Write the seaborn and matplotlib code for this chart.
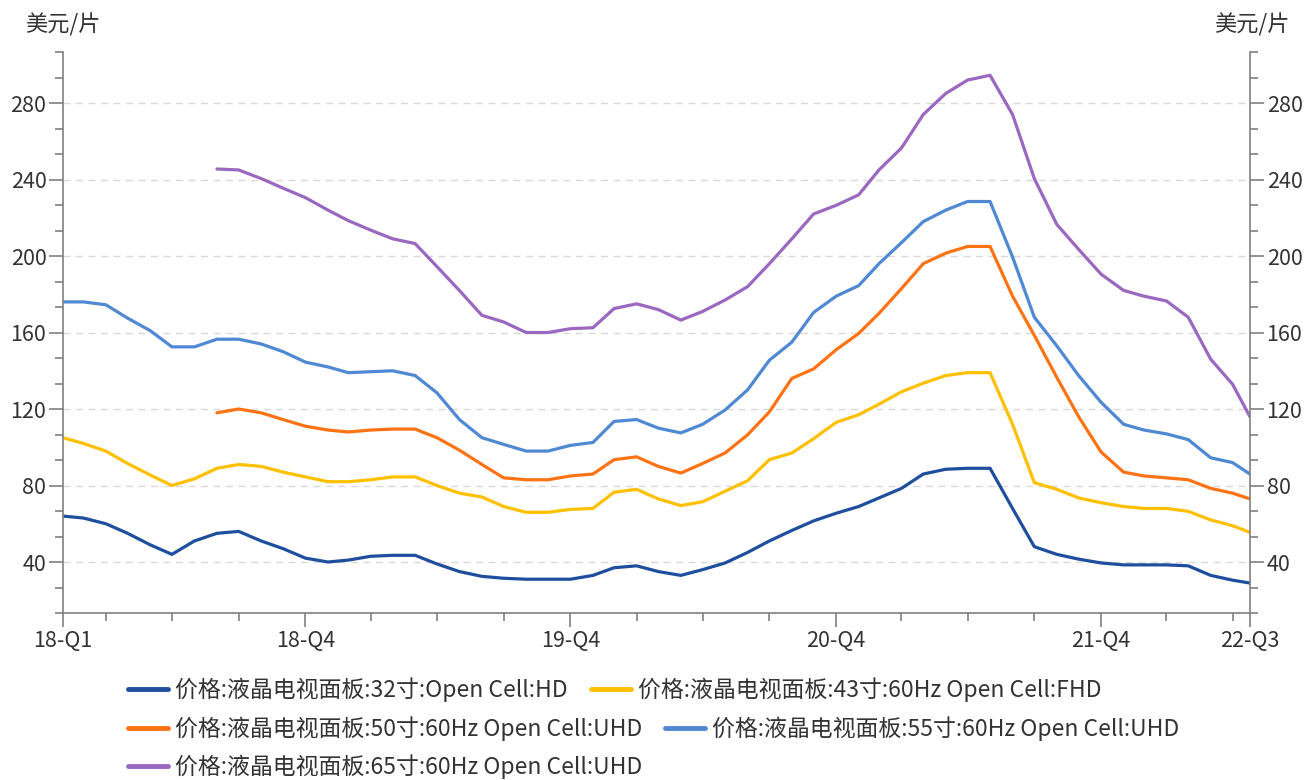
import pandas as pd
import numpy as np
import matplotlib.pyplot as plt
import matplotlib.dates as mdates
from matplotlib.lines import Line2D
from matplotlib.ticker import FixedLocator, FixedFormatter, NullFormatter
import seaborn as sns

sns.set_style('ticks')
plt.rcParams['font.family'] = ['Noto Sans CJK SC', 'DejaVu Sans']
plt.rcParams['axes.unicode_minus'] = False

# 月度数据：2018-02 ~ 2022-07，最后一个点为 7 月下旬
dates = list(pd.date_range('2018-02-01', '2022-07-01', freq='MS')) + [pd.Timestamp('2022-07-25')]

names = ['价格:液晶电视面板:32寸:Open Cell:HD',
         '价格:液晶电视面板:43寸:60Hz Open Cell:FHD',
         '价格:液晶电视面板:50寸:60Hz Open Cell:UHD',
         '价格:液晶电视面板:55寸:60Hz Open Cell:UHD',
         '价格:液晶电视面板:65寸:60Hz Open Cell:UHD']
colors = ['#1f4e9e', '#ffc000', '#ff7314', '#4f88d3', '#9a68c0']

p32 = [64, 63, 60, 55, 49, 44, 51, 55, 56, 51,
       47, 42, 40, 41, 43, 43.5, 43.5, 39, 35, 32.5,
       31.5, 31, 31, 31, 33, 37, 38, 35, 33, 36,
       39.5, 45, 51, 56.5, 61.5, 65.5, 69, 73.5, 78.5, 86,
       88.5, 89, 89, 68, 48, 44, 41.5, 39.5, 38.5, 38.5,
       38.5, 38, 33, 30.5, 29]
p43 = [105, 102, 98, 91.5, 85.5, 80, 83.5, 89, 91, 90,
       87, 84.5, 82, 82, 83, 84.5, 84.5, 80, 76, 74,
       69, 66, 66, 67.5, 68, 76.5, 78, 73, 69.5, 71.5,
       77, 82.5, 93.5, 97, 104.5, 113, 117, 122.5, 129, 133.5,
       137.5, 139, 139, 112, 81.5, 78, 73.5, 71, 69, 68,
       68, 66.5, 62, 59, 55.5]
p50 = [np.nan] * 7 + [118, 120, 118,
       114.5, 111, 109, 108, 109, 109.5, 109.5, 105, 98.5, 91,
       84, 83, 83, 85, 86, 93.5, 95, 90, 86.5, 91.5,
       97, 106.5, 118.5, 136, 141, 151, 159.5, 170, 183, 196,
       201.5, 205, 205, 179, 158.5, 136.5, 116, 97.5, 87, 85,
       84, 83, 78.5, 76, 73]
p55 = [176, 176, 174.5, 167.5, 161, 152.5, 152.5, 156.5, 156.5, 154,
       150, 144.5, 142, 139, 139.5, 140, 137.5, 128.5, 114.5, 105,
       101.5, 98, 98, 101, 102.5, 113.5, 114.5, 110, 107.5, 112,
       119.5, 130, 145.5, 155, 170.5, 179, 184.5, 196, 207, 218,
       224, 228.5, 228.5, 199.5, 168, 153, 137.5, 123.5, 112, 109,
       107, 104, 94.5, 92, 86]
p65 = [np.nan] * 7 + [245.5, 245, 240.5,
       235.5, 230.5, 224, 218.5, 213.5, 209, 206.5, 194.5, 182, 169,
       165.5, 160, 160, 162, 162.5, 172.5, 175, 172, 166.5, 171,
       177, 184, 196, 209, 222, 226.5, 232, 245, 256.5, 274,
       285, 292, 294.5, 274, 240.5, 216.5, 203.5, 190.5, 182, 179,
       176.5, 168, 146, 133, 116]

df = pd.DataFrame({'date': dates, names[0]: p32, names[1]: p43, names[2]: p50,
                   names[3]: p55, names[4]: p65})
df = df.melt(id_vars='date', var_name='name', value_name='price').dropna()

fig, ax = plt.subplots(figsize=(13.16, 7.8), dpi=100)
fig.subplots_adjust(left=0.0479, right=0.9498, bottom=0.2141, top=0.9333)

sns.lineplot(data=df, x='date', y='price', hue='name', hue_order=names,
             palette=colors, linewidth=2.3, ax=ax, legend=False)

# 坐标轴
ax.set_xlim(dates[0], dates[-1])
ax.set_ylim(40 / 3, 920 / 3)
ax.set_xlabel('')
ax.set_ylabel('')

major_x = [dates[0], pd.Timestamp('2019-01-01'), pd.Timestamp('2020-01-01'),
           pd.Timestamp('2021-01-01'), pd.Timestamp('2022-01-01'), dates[-1]]
major_x_labels = ['18-Q1', '18-Q4', '19-Q4', '20-Q4', '21-Q4', '22-Q3']
minor_x = [d for d in pd.date_range('2018-04-01', '2022-07-01', freq='QS') if d.month != 1]
ax.xaxis.set_major_locator(FixedLocator(mdates.date2num(major_x)))
ax.xaxis.set_major_formatter(FixedFormatter(major_x_labels))
ax.xaxis.set_minor_locator(FixedLocator(mdates.date2num(minor_x)))
ax.xaxis.set_minor_formatter(NullFormatter())

ax.yaxis.set_major_locator(FixedLocator(np.arange(40, 281, 40)))
ax.yaxis.set_minor_locator(FixedLocator(np.arange(1, 24) * 40 / 3))

ax.tick_params(axis='both', which='major', direction='out', length=10, width=1.2,
               color='#808080', labelsize=15.5, labelcolor='#333333', pad=2)
ax.tick_params(axis='both', which='minor', direction='out', length=6, width=1.2,
               color='#808080')
ax.tick_params(axis='y', which='both', left=True, right=True, labelleft=True, labelright=True)

ax.spines['top'].set_visible(False)
for s in ['left', 'right', 'bottom']:
    ax.spines[s].set_color('#808080')
    ax.spines[s].set_linewidth(1.2)

ax.grid(axis='y', which='major', linestyle=(0, (5, 4)), color='#d9d9d9', linewidth=1)
ax.set_axisbelow(True)

fig.text(25 / 1316, 1 - 25 / 780, '美元/片', ha='left', va='center', fontsize=16, color='#333333')
fig.text(1290 / 1316, 1 - 25 / 780, '美元/片', ha='right', va='center', fontsize=16, color='#333333')

# 图例（三行）
rows = [[0, 1], [2, 3], [4]]
row_y = [690, 729, 767]
for r, y in zip(rows, row_y):
    handles = [Line2D([], [], color=colors[i], lw=3.5) for i in r]
    fig.legend(handles, [names[i] for i in r], loc='center left',
               bbox_to_anchor=(128 / 1316, 1 - y / 780), ncol=len(r), frameon=False,
               borderpad=0, borderaxespad=0, handlelength=1.75, handletextpad=0.3,
               columnspacing=1.0, fontsize=16.5, labelcolor='#333333')

fig.savefig('out.png', dpi=100)
